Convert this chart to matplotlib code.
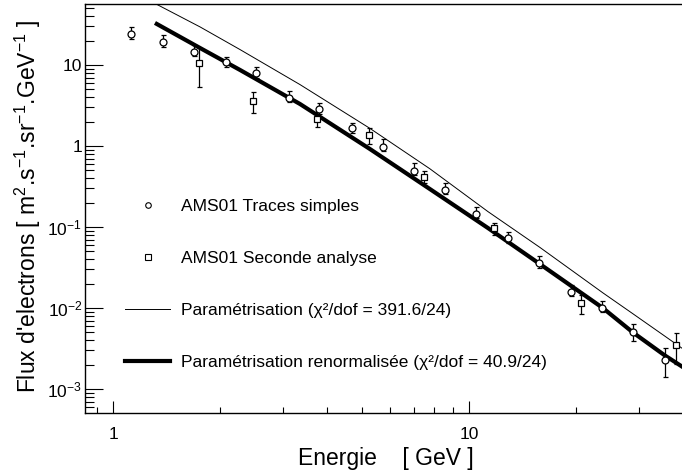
import matplotlib
matplotlib.use("Agg")
import matplotlib.pyplot as plt
from matplotlib.lines import Line2D
from matplotlib.ticker import FixedLocator, FixedFormatter, NullFormatter

plt.rcParams['font.family'] = ['Liberation Sans', 'DejaVu Sans']
plt.rcParams['mathtext.fontset'] = 'custom'
plt.rcParams['mathtext.rm'] = 'Liberation Sans'
plt.rcParams['mathtext.it'] = 'Liberation Sans'
plt.rcParams['mathtext.bf'] = 'Liberation Sans:bold'
plt.rcParams['mathtext.default'] = 'regular'

# ---- data ----
circ_E = [1.121, 1.384, 1.689, 2.077, 2.52, 3.12, 3.79, 4.68, 5.72, 7.01,
          8.58, 10.5, 12.87, 15.76, 19.3, 23.7, 28.9, 35.5]
circ_F = [23.9, 19.1, 14.6, 10.8, 7.9, 3.95, 2.84, 1.65, 0.98, 0.496,
          0.286, 0.1447, 0.0725, 0.0359, 0.0159, 0.0101, 0.0051, 0.0023]
circ_err_hi = [5.3, 4.4, 3.0, 1.9, 1.5, 0.87, 0.52, 0.29, 0.23, 0.115,
               0.06, 0.033, 0.015, 0.008, 0.0034, 0.0021, 0.0012, 0.00089]
circ_err_lo = [2.9, 2.3, 1.75, 1.3, 0.95, 0.47, 0.34, 0.2, 0.12, 0.06,
               0.034, 0.017, 0.0087, 0.0043, 0.0019, 0.0012, 0.0012, 0.00089]

sq_E = [1.747, 2.478, 3.73, 5.24, 7.47, 11.75, 20.6, 38.1]
sq_F = [10.7, 3.6, 2.18, 1.37, 0.42, 0.096, 0.0115, 0.00345]
sq_err = [5.4, 1.08, 0.45, 0.31, 0.074, 0.017, 0.003, 0.00143]

line_E = [1.327, 1.756, 2.274, 3.352, 5.27, 7.77, 11.31, 15.83, 23.79,
          28.89, 35.52, 39.66]
param_F = [56.0, 29.5, 15.5, 5.73, 1.65, 0.523, 0.155, 0.056, 0.0154,
           0.0085, 0.0045, 0.0032]
renorm_F = [32.1, 16.2, 8.68, 3.30, 0.918, 0.294, 0.0972, 0.0349, 0.0100,
            0.0050, 0.0026, 0.0019]

labels = ["AMS01 Traces simples", "AMS01 Seconde analyse",
          "Paramétrisation (χ²/dof = 391.6/24)",
          "Paramétrisation renormalisée (χ²/dof = 40.9/24)"]

x_major = [1, 10]
x_major_labels = ["1", "10"]
y_major = [1e-3, 1e-2, 1e-1, 1, 10]
y_major_labels = ["$10^{-3}$", "$10^{-2}$", "$10^{-1}$", "1", "10"]

# ---- figure ----
W, H = 682, 474
fig = plt.figure(figsize=(W / 100, H / 100), dpi=100)
ax = fig.add_axes([85 / W, 61 / H, 597 / W, 409 / H])
ax.set_xscale('log')
ax.set_yscale('log')
ax.set_xlim(0.834, 39.7)
ax.set_ylim(5.06e-4, 56.6)

ax.plot(line_E, param_F, color='black', lw=0.7, zorder=2)
ax.plot(line_E, renorm_F, color='black', lw=3.0, zorder=2)

ax.errorbar(circ_E, circ_F, yerr=[circ_err_lo, circ_err_hi], fmt='o',
            ms=5.0, mfc='white', mec='black', mew=0.9, ecolor='black',
            elinewidth=0.9, capsize=1.8, capthick=0.9, zorder=3)
ax.errorbar(sq_E, sq_F, yerr=sq_err, fmt='s',
            ms=5.0, mfc='white', mec='black', mew=0.9, ecolor='black',
            elinewidth=0.9, capsize=1.8, capthick=0.9, zorder=3)

# axes style (ROOT-like)
for s in ['left', 'bottom', 'top']:
    ax.spines[s].set_linewidth(1.0)
ax.spines['right'].set_visible(False)

ax.xaxis.set_major_locator(FixedLocator(x_major))
ax.xaxis.set_major_formatter(FixedFormatter(x_major_labels))
ax.xaxis.set_minor_locator(FixedLocator([0.9] + [2, 3, 4, 5, 6, 7, 8, 9] + [20, 30]))
ax.xaxis.set_minor_formatter(NullFormatter())
ax.yaxis.set_major_locator(FixedLocator(y_major))
ax.yaxis.set_major_formatter(FixedFormatter(y_major_labels))
ax.yaxis.set_minor_locator(FixedLocator(
    [m * 10.0 ** e for e in range(-4, 2) for m in range(2, 10)]))
ax.yaxis.set_minor_formatter(NullFormatter())

ax.tick_params(axis='x', which='major', direction='in', length=8.5, width=0.8,
               labelsize=12.5, pad=10, top=False)
ax.tick_params(axis='x', which='minor', direction='in', length=4.5, width=0.8,
               top=False)
ax.tick_params(axis='y', which='major', direction='in', length=13, width=0.8,
               labelsize=12.5, pad=2, right=False)
ax.tick_params(axis='y', which='minor', direction='in', length=6.5, width=0.8,
               right=False)

fig.text(386 / W, (H - 465) / H, "Energie    [ GeV ]", fontsize=16.5,
         ha='center', va='baseline')
fig.text(36 / W, 1 - 206 / H,
         "Flux d'electrons [ m$^{2}$.s$^{-1}$.sr$^{-1}$.GeV$^{-1}$ ]",
         fontsize=16.5, rotation=90, rotation_mode='anchor',
         ha='center', va='baseline')

handles = [
    Line2D([], [], marker='o', ls='none', ms=4, mfc='white', mec='black', mew=0.8),
    Line2D([], [], marker='s', ls='none', ms=4, mfc='white', mec='black', mew=0.8),
    Line2D([], [], color='black', lw=0.7),
    Line2D([], [], color='black', lw=3.0),
]
ax.legend(handles, labels, loc='upper left',
          bbox_to_anchor=((125 - 85) / 597, (413 - 199) / 409),
          frameon=False, fontsize=12.5, handlelength=2.6, handletextpad=0.65,
          labelspacing=2.12, borderpad=0, borderaxespad=0)

fig.savefig("out.png", dpi=100)
